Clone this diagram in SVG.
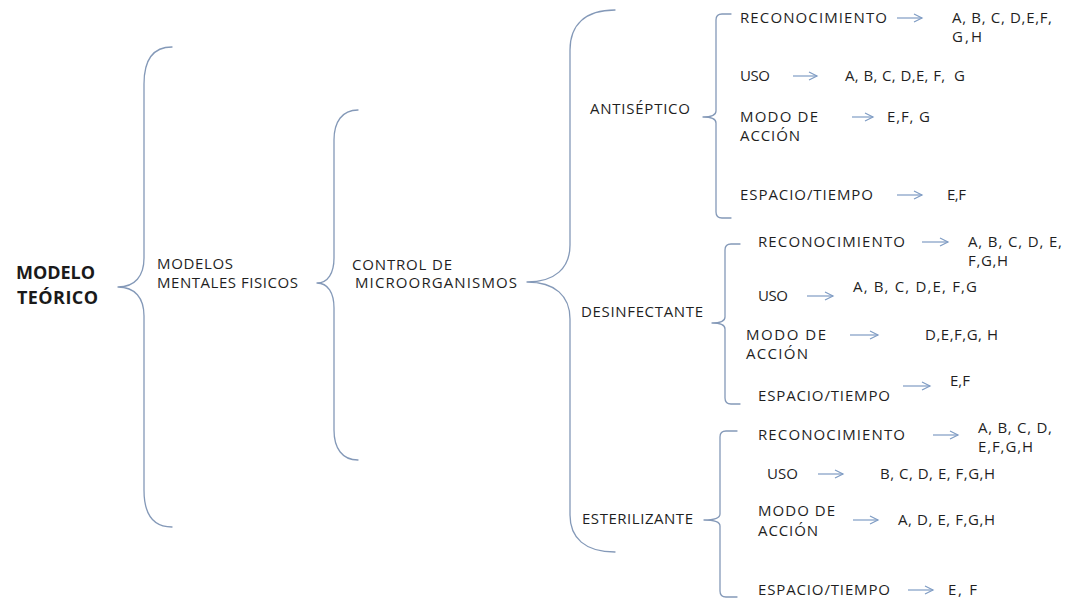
<svg xmlns="http://www.w3.org/2000/svg" width="1071" height="600" viewBox="0 0 1071 600">
  <style>
    .t { font-family: "Open Sans", "Liberation Sans", sans-serif; font-size: 15px; fill: #1f1f1f; }
    .tb { font-family: "Open Sans", "Liberation Sans", sans-serif; font-size: 18px; font-weight: bold; fill: #1a1a1a; }
    .brace { fill: none; stroke: #8499b8; stroke-width: 1.3; stroke-linecap: round; stroke-linejoin: round; }
    .arrow { fill: none; stroke: #7f9cc4; stroke-width: 1.2; marker-end: url(#head); }
  </style>
  <defs>
    <marker id="head" markerWidth="10" markerHeight="10" refX="8" refY="4" orient="auto" markerUnits="userSpaceOnUse" overflow="visible">
      <path d="M0,0 L8,4 L0,8" fill="none" stroke="#7f9cc4" stroke-width="1.2"/>
    </marker>
  </defs>
  <rect width="1071" height="600" fill="#ffffff"/>

  <!-- braces and arrows -->
  <g id="connectors">
    <path class="brace" d="M172,47 C152,47 144,62 144,84 L144,258 C144,276 135,287 118,287 C135,287 144,298 144,316 L144,490 C144,512 152,527 172,527"/>
    <path class="brace" d="M358,110 C342,110 334,122 334,140 L334,258 C334,273 328,283 317,283 C328,283 334,293 334,308 L334,430 C334,448 342,460 358,460"/>
    <path class="brace" d="M615,10 C585,10 570,25 570,50 L570,245 C570,268 555,282 527,282 C555,282 570,296 570,319 L570,515 C570,538 585,552 615,552"/>
    <path class="brace" d="M731,14 H722 Q716,14 716,20 V111 Q716,117 703,117 Q716,117 716,123 V212 Q716,218 722,218 H731"/>
    <path class="brace" d="M740,244 H731 Q725,244 725,250 V317 Q725,323 712,323 Q725,323 725,329 V398 Q725,404 731,404 H740"/>
    <path class="brace" d="M737,431 H726 Q720,431 720,437 V514 Q720,520 704,520 Q720,520 720,526 V591 Q720,597 726,597 H737"/>

    <path class="arrow" d="M897,18 H922"/>
    <path class="arrow" d="M793,76 H817"/>
    <path class="arrow" d="M852,117 H873"/>
    <path class="arrow" d="M897,195 H922"/>
    <path class="arrow" d="M922,242 H948"/>
    <path class="arrow" d="M807,296 H833"/>
    <path class="arrow" d="M850,335 H878"/>
    <path class="arrow" d="M903,386 H930"/>
    <path class="arrow" d="M933,435 H958"/>
    <path class="arrow" d="M818,474 H843"/>
    <path class="arrow" d="M853,520 H878"/>
    <path class="arrow" d="M908,590 H933"/>
  </g>

  <g id="modelo-teorico">
    <text class="tb" x="16" y="279" textLength="79">MODELO</text>
    <text class="tb" x="17" y="304" textLength="81">TEÓRICO</text>
  </g>
  <g id="modelos-mentales">
    <text class="t" x="157" y="269" textLength="76">MODELOS</text>
    <text class="t" x="157" y="288" textLength="141">MENTALES FISICOS</text>
  </g>
  <g id="control">
    <text class="t" x="352" y="270" textLength="100">CONTROL DE</text>
    <text class="t" x="355" y="288" textLength="162">MICROORGANISMOS</text>
  </g>
  <g id="antiseptico">
    <text class="t" x="590" y="114" textLength="100">ANTISÉPTICO</text>
  </g>
  <g id="desinfectante">
    <text class="t" x="581" y="317" textLength="122">DESINFECTANTE</text>
  </g>
  <g id="esterilizante">
    <text class="t" x="582" y="524" textLength="111">ESTERILIZANTE</text>
  </g>

  <!-- antiséptico -->
  <g id="a-reconocimiento">
    <text class="t" x="740" y="23" textLength="147">RECONOCIMIENTO</text>
    <text class="t" x="952" y="23" textLength="100">A, B, C, D,E,F,</text>
    <text class="t" x="952" y="42" textLength="30">G,H</text>
  </g>
  <g id="a-uso">
    <text class="t" x="740" y="81" textLength="30">USO</text>
    <text class="t" x="845" y="81" textLength="120" xml:space="preserve">A, B, C, D,E, F,  G</text>
  </g>
  <g id="a-modo">
    <text class="t" x="740" y="122" textLength="78">MODO DE</text>
    <text class="t" x="740" y="141" textLength="60">ACCIÓN</text>
    <text class="t" x="887" y="122" textLength="43">E,F, G</text>
  </g>
  <g id="a-espacio">
    <text class="t" x="740" y="200" textLength="133">ESPACIO/TIEMPO</text>
    <text class="t" x="947" y="200" textLength="19">E,F</text>
  </g>

  <!-- desinfectante -->
  <g id="d-reconocimiento">
    <text class="t" x="758" y="247" textLength="147">RECONOCIMIENTO</text>
    <text class="t" x="968" y="247" textLength="94">A, B, C, D, E,</text>
    <text class="t" x="968" y="266" textLength="40">F,G,H</text>
  </g>
  <g id="d-uso">
    <text class="t" x="758" y="301" textLength="30">USO</text>
    <text class="t" x="853" y="292" textLength="124">A, B, C, D,E, F,G</text>
  </g>
  <g id="d-modo">
    <text class="t" x="746" y="340" textLength="80">MODO DE</text>
    <text class="t" x="746" y="359" textLength="62">ACCIÓN</text>
    <text class="t" x="925" y="340" textLength="73">D,E,F,G, H</text>
  </g>
  <g id="d-espacio">
    <text class="t" x="758" y="401" textLength="132">ESPACIO/TIEMPO</text>
    <text class="t" x="950" y="386" textLength="20">E,F</text>
  </g>

  <!-- esterilizante -->
  <g id="e-reconocimiento">
    <text class="t" x="758" y="440" textLength="147">RECONOCIMIENTO</text>
    <text class="t" x="978" y="433" textLength="74">A, B, C, D,</text>
    <text class="t" x="978" y="452" textLength="55">E,F,G,H</text>
  </g>
  <g id="e-uso">
    <text class="t" x="767" y="479" textLength="31">USO</text>
    <text class="t" x="880" y="479" textLength="115">B, C, D, E, F,G,H</text>
  </g>
  <g id="e-modo">
    <text class="t" x="758" y="516" textLength="77">MODO DE</text>
    <text class="t" x="758" y="536" textLength="60">ACCIÓN</text>
    <text class="t" x="898" y="525" textLength="97">A, D, E, F,G,H</text>
  </g>
  <g id="e-espacio">
    <text class="t" x="758" y="595" textLength="132">ESPACIO/TIEMPO</text>
    <text class="t" x="948" y="595" textLength="29">E, F</text>
  </g>
</svg>
